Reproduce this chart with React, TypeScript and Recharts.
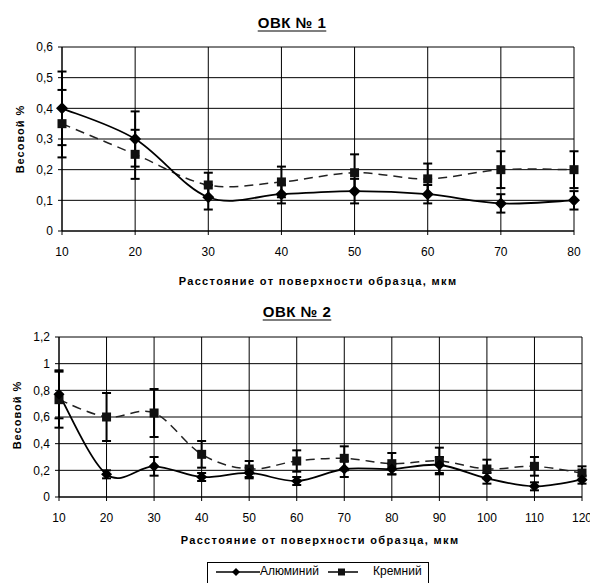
import React from "react";
import {
  LineChart,
  Line,
  XAxis,
  YAxis,
  CartesianGrid,
  ErrorBar,
} from "recharts";

// ОВК № 1
const depth1 = [10, 20, 30, 40, 50, 60, 70, 80];
const alum1 = [0.4, 0.3, 0.11, 0.12, 0.13, 0.12, 0.09, 0.1];
const alumErr1 = [0.12, 0.09, 0.04, 0.03, 0.04, 0.03, 0.03, 0.03];
const silic1 = [0.35, 0.25, 0.15, 0.16, 0.19, 0.17, 0.2, 0.2];
const silicErr1 = [0.11, 0.08, 0.04, 0.05, 0.06, 0.05, 0.06, 0.06];
const yTicks1 = [0, 0.1, 0.2, 0.3, 0.4, 0.5, 0.6];

// ОВК № 2
const depth2 = [10, 20, 30, 40, 50, 60, 70, 80, 90, 100, 110, 120];
const alum2 = [0.77, 0.17, 0.23, 0.15, 0.18, 0.12, 0.21, 0.21, 0.24, 0.14, 0.08, 0.13];
const alumErr2 = [0.18, 0.03, 0.07, 0.03, 0.04, 0.03, 0.06, 0.04, 0.06, 0.04, 0.03, 0.03];
const silic2 = [0.73, 0.6, 0.63, 0.32, 0.21, 0.27, 0.29, 0.25, 0.27, 0.21, 0.23, 0.18];
const silicErr2 = [0.21, 0.18, 0.18, 0.1, 0.06, 0.08, 0.09, 0.08, 0.1, 0.07, 0.07, 0.05];
const yTicks2 = [0, 0.2, 0.4, 0.6, 0.8, 1, 1.2];

const FONT = "'Liberation Sans', Arial, sans-serif";
const fmt = (v: number) => String(v).replace(".", ",");

// Excel-like smoothed line (Catmull-Rom as bezier)
const excelSmooth = (ctx: any) => {
  let pts: number[][] = [];
  return {
    areaStart() {},
    areaEnd() {},
    lineStart() {
      pts = [];
    },
    point(x: number, y: number) {
      pts.push([+x, +y]);
    },
    lineEnd() {
      if (!pts.length) return;
      ctx.moveTo(pts[0][0], pts[0][1]);
      for (let i = 0; i < pts.length - 1; i++) {
        const p0 = pts[i - 1] || pts[i];
        const p1 = pts[i];
        const p2 = pts[i + 1];
        const p3 = pts[i + 2] || p2;
        ctx.bezierCurveTo(
          p1[0] + (p2[0] - p0[0]) / 6,
          p1[1] + (p2[1] - p0[1]) / 6,
          p2[0] - (p3[0] - p1[0]) / 6,
          p2[1] - (p3[1] - p1[1]) / 6,
          p2[0],
          p2[1]
        );
      }
    },
  };
};

const diamond = (r: number) => (p: any) => (
  <path
    key={`d-${p.index}`}
    d={`M${p.cx},${p.cy - r}L${p.cx + r},${p.cy}L${p.cx},${p.cy + r}L${p.cx - r},${p.cy}Z`}
    fill="#000"
  />
);

const square = (r: number) => (p: any) => (
  <rect key={`s-${p.index}`} x={p.cx - r} y={p.cy - r} width={r * 2} height={r * 2} fill="#111" />
);

function Panel({
  depth,
  alum,
  alumErr,
  silic,
  silicErr,
  yTicks,
  top,
  height,
  margin,
  dSize,
}: {
  depth: number[];
  alum: number[];
  alumErr: number[];
  silic: number[];
  silicErr: number[];
  yTicks: number[];
  top: number;
  height: number;
  margin: { top: number; right: number; left: number; bottom: number };
  dSize: number;
}) {
  const data = depth.map((x, i) => ({
    x,
    al: alum[i],
    alErr: alumErr[i],
    si: silic[i],
    siErr: silicErr[i],
  }));
  const tickStyle = { fill: "#000", fontSize: 12, fontFamily: FONT };
  return (
    <div style={{ position: "absolute", left: 0, top }}>
      <LineChart width={590} height={height} data={data} margin={margin}>
        <CartesianGrid stroke="#000" strokeWidth={1} />
        <XAxis
          type="number"
          dataKey="x"
          domain={[depth[0], depth[depth.length - 1]]}
          ticks={depth}
          interval={0}
          tick={tickStyle}
          tickSize={4}
          tickMargin={12}
          axisLine={{ stroke: "#000" }}
          tickLine={{ stroke: "#000" }}
        />
        <YAxis
          type="number"
          domain={[yTicks[0], yTicks[yTicks.length - 1]]}
          ticks={yTicks}
          interval={0}
          width={40}
          tick={tickStyle}
          tickFormatter={fmt}
          tickSize={4}
          tickMargin={5}
          axisLine={{ stroke: "#000" }}
          tickLine={{ stroke: "#000" }}
        />
        <Line
          dataKey="si"
          type={excelSmooth as any}
          stroke="#222"
          strokeWidth={1.5}
          strokeDasharray="9 6"
          dot={square(4.5)}
          activeDot={false}
          isAnimationActive={false}
        >
          <ErrorBar dataKey="siErr" direction="y" width={4.5} stroke="#000" strokeWidth={2} />
        </Line>
        <Line
          dataKey="al"
          type={excelSmooth as any}
          stroke="#000"
          strokeWidth={1.8}
          dot={diamond(dSize)}
          activeDot={false}
          isAnimationActive={false}
        >
          <ErrorBar dataKey="alErr" direction="y" width={4.5} stroke="#000" strokeWidth={2} />
        </Line>
      </LineChart>
    </div>
  );
}

const centered = (x: number, y: number, extra: React.CSSProperties = {}): React.CSSProperties => ({
  position: "absolute",
  left: x,
  top: y,
  transform: "translate(-50%, -50%)",
  whiteSpace: "nowrap",
  ...extra,
});

const titleStyle: React.CSSProperties = {
  fontSize: 15,
  fontWeight: 700,
  letterSpacing: 0.5,
  textDecoration: "underline",
  textUnderlineOffset: 3,
};
const axisTitleStyle: React.CSSProperties = {
  fontSize: 11,
  fontWeight: 700,
  letterSpacing: 1.35,
};
const yTitleStyle: React.CSSProperties = {
  fontSize: 11,
  fontWeight: 700,
  letterSpacing: 1,
};

export default function App() {
  return (
    <div
      style={{
        position: "absolute",
        left: 0,
        top: 0,
        width: 590,
        height: 583,
        background: "#fff",
        fontFamily: FONT,
        color: "#000",
        overflow: "hidden",
      }}
    >
      <div style={centered(292, 22, titleStyle)}>ОВК № 1</div>
      <Panel
        depth={depth1}
        alum={alum1}
        alumErr={alumErr1}
        silic={silic1}
        silicErr={silicErr1}
        yTicks={yTicks1}
        top={0}
        height={290}
        margin={{ top: 47, right: 16, left: 22, bottom: 29 }}
        dSize={6}
      />
      <div style={centered(20, 139, { ...yTitleStyle, transform: "translate(-50%, -50%) rotate(-90deg)" })}>
        Весовой %
      </div>
      <div style={centered(318, 281, axisTitleStyle)}>Расстояние от поверхности образца, мкм</div>

      <div style={centered(297, 311, titleStyle)}>ОВК № 2</div>
      <Panel
        depth={depth2}
        alum={alum2}
        alumErr={alumErr2}
        silic={silic2}
        silicErr={silicErr2}
        yTicks={yTicks2}
        top={290}
        height={270}
        margin={{ top: 47, right: 8, left: 19, bottom: 33 }}
        dSize={5.5}
      />
      <div style={centered(17, 415, { ...yTitleStyle, transform: "translate(-50%, -50%) rotate(-90deg)" })}>
        Весовой %
      </div>
      <div style={centered(320, 540, axisTitleStyle)}>Расстояние от поверхности образца, мкм</div>

      {/* legend */}
      <div
        style={{
          position: "absolute",
          left: 207,
          top: 562,
          width: 222,
          height: 24,
          border: "1px solid #000",
          boxSizing: "border-box",
          fontSize: 12,
        }}
      >
        <svg width={222} height={24} style={{ position: "absolute", left: 0, top: 0 }}>
          <line x1={8} x2={52} y1={9} y2={9} stroke="#000" strokeWidth={1.5} />
          <path d="M28,5L32,9L28,13L24,9Z" fill="#000" />
          <line x1={120} x2={150} y1={9} y2={9} stroke="#000" strokeWidth={1.5} />
          <rect x={130} y={5.5} width={7} height={7} fill="#111" />
        </svg>
        <span style={{ position: "absolute", left: 52, top: 1 }}>Алюминий</span>
        <span style={{ position: "absolute", left: 165, top: 1 }}>Кремний</span>
      </div>
    </div>
  );
}
